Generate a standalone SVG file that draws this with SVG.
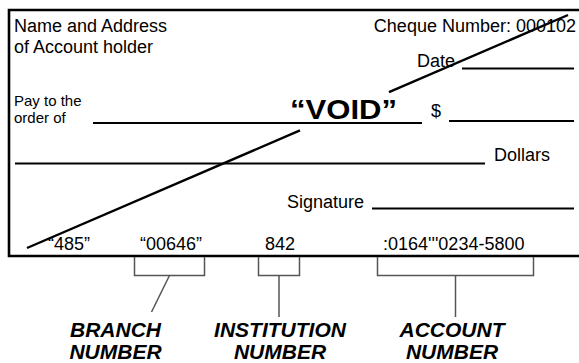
<svg xmlns="http://www.w3.org/2000/svg" width="579" height="363" viewBox="0 0 579 363">
<style>
  text { font-family: "Liberation Sans", Arial, sans-serif; fill: #000; }
  .t18 { font-size: 18px; }
  .t15 { font-size: 15px; }
  .void { font-size: 28px; font-weight: bold; }
  .lbl { font-size: 21px; font-weight: bold; font-style: italic; text-anchor: middle; }
  .rule { stroke: #000; stroke-width: 2; fill: none; }
  .box { stroke: #000; stroke-width: 2.6; fill: none; }
  .br { stroke: #555; stroke-width: 1.5; fill: none; }
  .diag { stroke: #000; stroke-width: 2.4; fill: none; }
</style>
<rect width="579" height="363" fill="#fff"/>
<g id="cheque">
  <path class="box" d="M580,10 H9 V256 H580"/>
  <text class="t18" x="14" y="32">Name and Address</text>
  <text class="t18" x="14" y="53">of Account holder</text>
  <text class="t18" x="576" y="32" text-anchor="end">Cheque Number: 000102</text>
  <text class="t18" x="417" y="67">Date</text>
  <line class="rule" x1="462" y1="68.5" x2="574" y2="68.5"/>
  <text class="t15" x="14" y="106">Pay to the</text>
  <text class="t15" x="14" y="123">order of</text>
  <line class="rule" x1="93" y1="123" x2="422" y2="123"/>
  <text class="void" x="290" y="118.5" textLength="107" lengthAdjust="spacingAndGlyphs">“VOID”</text>
  <text class="t18" x="431" y="117">$</text>
  <line class="rule" x1="449" y1="121" x2="574" y2="121"/>
  <line class="rule" x1="15" y1="163.5" x2="485" y2="163.5"/>
  <text class="t18" x="494" y="161">Dollars</text>
  <text class="t18" x="364" y="208" text-anchor="end">Signature</text>
  <line class="rule" x1="372" y1="208.5" x2="574" y2="208.5"/>
  <text class="t18" x="48" y="250">“485”</text>
  <text class="t18" x="140" y="250">“00646”</text>
  <text class="t18" x="265" y="250">842</text>
  <text class="t18" x="383" y="250">:0164'''0234-5800</text>
  <line class="diag" x1="568" y1="15" x2="389" y2="92.1"/>
  <line class="diag" x1="300" y1="130.4" x2="27" y2="248"/>
</g>
<g id="connectors">
  <path class="br" d="M134.5,257 V275.5 H204.5 V257"/>
  <line class="br" x1="169.5" y1="275.5" x2="151.5" y2="312"/>
  <path class="br" d="M258.5,257 V275.5 H299.5 V257"/>
  <line class="br" x1="279" y1="275.5" x2="279" y2="317"/>
  <path class="br" d="M377.5,257 V275.5 H533.5 V257"/>
  <line class="br" x1="455.5" y1="275.5" x2="455.5" y2="317"/>
</g>
<g id="branch-label">
  <text class="lbl" x="115.5" y="337">BRANCH</text>
  <text class="lbl" x="115.5" y="359">NUMBER</text>
</g>
<g id="institution-label">
  <text class="lbl" x="280" y="337">INSTITUTION</text>
  <text class="lbl" x="280" y="359">NUMBER</text>
</g>
<g id="account-label">
  <text class="lbl" x="452" y="337">ACCOUNT</text>
  <text class="lbl" x="452" y="359">NUMBER</text>
</g>
</svg>
